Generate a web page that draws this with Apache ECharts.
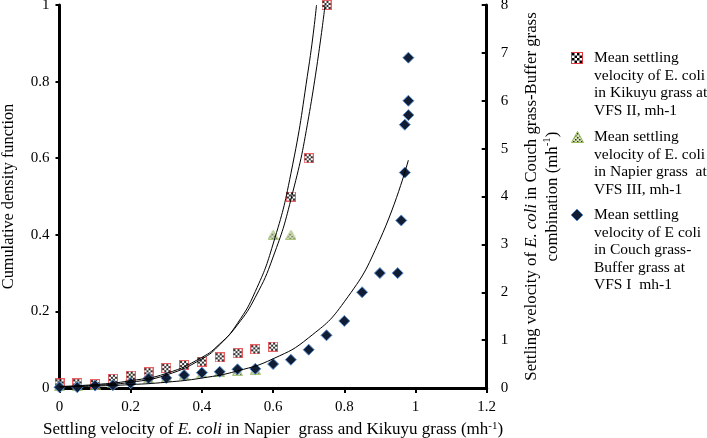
<!DOCTYPE html>
<html><head><meta charset="utf-8">
<script src="https://cdn.jsdelivr.net/npm/echarts@6/dist/echarts.min.js"></script>
<style>html,body{margin:0;padding:0;background:#fff}#c{width:707px;height:438px}</style>
</head><body><div id="c"></div>
<script>
// ---- data ----
const kikuyuX = [0,0.05,0.1,0.15,0.2,0.25,0.3,0.35,0.4,0.45,0.5,0.55,0.6,0.65,0.7,0.75];
const kikuyuY = [0.012,0.012,0.01,0.024,0.032,0.041,0.052,0.06,0.069,0.08,0.091,0.101,0.108,0.5,0.6,1.0];

const napierX = [0,0.05,0.1,0.15,0.2,0.25,0.3,0.35,0.4,0.45,0.5,0.55,0.6,0.65];
const napierY = [0.005,0.005,0.008,0.012,0.03,0.025,0.028,0.033,0.038,0.042,0.045,0.048,0.4,0.4];

const couchX = [0,0.05,0.1,0.15,0.2,0.25,0.3,0.35,0.4,0.45,0.5,0.55,0.6,0.65,0.7,0.75,0.8,0.85,0.9,0.95,0.96,0.97,0.97,0.98,0.98,0.98];
const couchY = [0.015,0.015,0.05,0.06,0.1,0.2,0.21,0.27,0.32,0.34,0.39,0.4,0.5,0.59,0.8,1.1,1.4,2.0,2.4,2.4,3.5,4.5,5.5,5.7,6.0,6.9];

// trend curves, points
const trendAX = [0,0.1,0.2,0.3,0.4,0.45,0.5,0.55,0.6,0.65,0.7,0.722];
const trendAY = [0.003,0.007,0.015,0.034,0.076,0.113,0.169,0.252,0.376,0.56,0.838,1.0];
const trendBX = [0,0.1,0.2,0.3,0.4,0.45,0.5,0.55,0.6,0.65,0.7,0.746];
const trendBY = [0.004,0.009,0.019,0.038,0.08,0.115,0.165,0.237,0.342,0.492,0.708,1.0];
const trendCX = [0,0.1,0.2,0.3,0.4,0.5,0.6,0.7,0.8,0.9,0.98];
const trendCY = [0.024,0.041,0.071,0.121,0.208,0.357,0.61,1.05,1.8,3.1,4.76];

const xMin = 0, xMax = 1.2, xStep = 0.2;
const yLeftMin = 0, yLeftMax = 1, yLeftStep = 0.2;
const yRightMin = 0, yRightMax = 8, yRightStep = 1;

const legendKikuyu = 'Mean settling\nvelocity of E. coli\nin Kikuyu grass at\nVFS II, mh-1';
const legendNapier = 'Mean settling\nvelocity of E. coli\nin Napier grass  at\nVFS III, mh-1';
const legendCouch = 'Mean settling\nvelocity of E coli\nin Couch grass-\nBuffer grass at\nVFS I  mh-1';

// ---- marker images ----
function squareCanvas(s){
  const c=document.createElement('canvas');c.width=c.height=s;const g=c.getContext('2d');
  g.fillStyle='#fff';g.fillRect(0,0,s,s);g.fillStyle='#000';
  const n=4, cell=(s-2)/n;
  for(let i=0;i<n;i++)for(let j=0;j<n;j++)if((i+j)%2===0)g.fillRect(1+i*cell,1+j*cell,cell,cell);
  g.strokeStyle='#e0393e';g.lineWidth=1;g.strokeRect(0.5,0.5,s-1,s-1);
  return c;
}
function triangleCanvas(w,h){
  const c=document.createElement('canvas');c.width=w;c.height=h;const g=c.getContext('2d');
  g.beginPath();g.moveTo(w/2,0.5);g.lineTo(w-0.5,h-0.5);g.lineTo(0.5,h-0.5);g.closePath();
  g.fillStyle='#d3e2ae';g.fill();
  g.save();g.clip();g.fillStyle='#333';
  for(let i=0;i<w/2;i++)for(let j=0;j<h/2;j++)if((i+j)%2===0)g.fillRect(i*2,j*2,1.5,1.5);
  g.restore();
  g.strokeStyle='#94b85a';g.lineWidth=1;g.stroke();
  return c;
}
const sqSym = 'image://'+squareCanvas(10).toDataURL();
const triSym = 'image://'+triangleCanvas(11,10).toDataURL();

const zip = (xs, ys) => xs.map((x,i)=>[x, ys[i]]);
const font = 'Liberation Serif';
const axisLabel = {color:'#000', fontFamily:font, fontSize:15};

// legend drawn as graphic: icon beside the first line of each wrapped entry
const legTextX = 594, legIconCX = 577, legLH = 17.5;
const legFirstLineY = [58, 137, 215];
function legendText(t, y){
  return {type:'text', left:legTextX, top:y - legLH/2, silent:true,
    style:{text:t, fill:'#000', font:'15.5px "Liberation Serif"', lineHeight:legLH}};
}

const chart = echarts.init(document.getElementById('c'));
chart.setOption({
  animation:false,
  backgroundColor:'#fff',
  grid:{left:59.5, right:220.3, top:5, bottom:50, containLabel:false, outerBoundsMode:'none'},
  graphic:[
    {type:'image', left:legIconCX-6, top:legFirstLineY[0]-6, silent:true, style:{image:squareCanvas(12), width:12, height:12}},
    legendText(legendKikuyu, legFirstLineY[0]),
    {type:'image', left:legIconCX-6, top:legFirstLineY[1]-6, silent:true, style:{image:triangleCanvas(13,12), width:13, height:12}},
    legendText(legendNapier, legFirstLineY[1]),
    {type:'polygon', silent:true, shape:{points:[[legIconCX,legFirstLineY[2]-6],[legIconCX+6,legFirstLineY[2]],[legIconCX,legFirstLineY[2]+6],[legIconCX-6,legFirstLineY[2]]]},
     style:{fill:'#101d35', stroke:'#5b8fd0', lineWidth:1}},
    legendText(legendCouch, legFirstLineY[2])
  ],
  xAxis:{
    type:'value', min:xMin, max:xMax, interval:xStep,
    axisLine:{lineStyle:{color:'#000', width:3}},
    axisTick:{length:5, lineStyle:{color:'#000', width:2}},
    axisLabel:Object.assign({margin:12}, axisLabel),
    splitLine:{show:false},
    nameLocation:'middle', nameGap:33,
    name:'{n|Settling velocity of }{i|E. coli}{n| in Napier  grass and Kikuyu grass (mh}{s|-1}{n|)}',
    nameTextStyle:{color:'#000', fontFamily:font, fontSize:17, lineHeight:18,
      rich:{n:{fontFamily:font,fontSize:17,color:'#000',lineHeight:18},
            i:{fontFamily:font,fontSize:17,fontStyle:'italic',color:'#000',lineHeight:18},
            s:{fontFamily:font,fontSize:11,color:'#000',lineHeight:8,verticalAlign:'top'}}}
  },
  yAxis:[{
    type:'value', min:yLeftMin, max:yLeftMax, interval:yLeftStep,
    axisLine:{show:true, lineStyle:{color:'#000', width:3}},
    axisTick:{show:true, length:4, lineStyle:{color:'#000', width:2}},
    axisLabel:Object.assign({margin:10}, axisLabel),
    splitLine:{show:false},
    name:'Cumulative density function', nameLocation:'middle', nameGap:43,
    nameTextStyle:{color:'#000', fontFamily:font, fontSize:16.3}
  },{
    type:'value', min:yRightMin, max:yRightMax, interval:yRightStep, position:'right',
    axisLine:{show:true, lineStyle:{color:'#000', width:3}},
    axisTick:{show:true, inside:true, length:5, lineStyle:{color:'#000', width:2}},
    axisLabel:Object.assign({margin:14}, axisLabel),
    splitLine:{show:false},
    nameLocation:'middle', nameGap:34, nameRotate:90,
    name:'{n|Settling velocity of }{i|E. coli}{n| in Couch grass-Buffer grass}\n{n|combination (mh}{s|-1}{n|)}',
    nameTextStyle:{color:'#000', fontFamily:font, fontSize:16.8, lineHeight:21,
      rich:{n:{fontFamily:font,fontSize:16.8,color:'#000',lineHeight:21},
            i:{fontFamily:font,fontSize:16.8,fontStyle:'italic',color:'#000',lineHeight:21},
            s:{fontFamily:font,fontSize:11,color:'#000',lineHeight:10,verticalAlign:'top'}}}
  }],
  series:[
    {name:'Kikuyu grass at VFS II', type:'scatter', yAxisIndex:0, symbol:sqSym, symbolSize:10, data:zip(kikuyuX,kikuyuY), z:3},
    {name:'Napier grass at VFS III', type:'scatter', yAxisIndex:0, symbol:triSym, symbolSize:[11,10], data:zip(napierX,napierY), z:2},
    {name:'Couch grass-Buffer grass at VFS I', type:'scatter', yAxisIndex:1, symbol:'diamond', symbolSize:11,
     itemStyle:{color:'#101d35', borderColor:'#5b8fd0', borderWidth:1, opacity:1}, data:zip(couchX,couchY), z:4},
    {type:'line', yAxisIndex:0, data:zip(trendAX,trendAY), smooth:true, showSymbol:false, silent:true,
     lineStyle:{color:'#000', width:1}, z:5},
    {type:'line', yAxisIndex:0, data:zip(trendBX,trendBY), smooth:true, showSymbol:false, silent:true,
     lineStyle:{color:'#000', width:1}, z:5},
    {type:'line', yAxisIndex:1, data:zip(trendCX,trendCY), smooth:true, showSymbol:false, silent:true,
     lineStyle:{color:'#000', width:1}, z:5}
  ]
});
</script></body></html>
